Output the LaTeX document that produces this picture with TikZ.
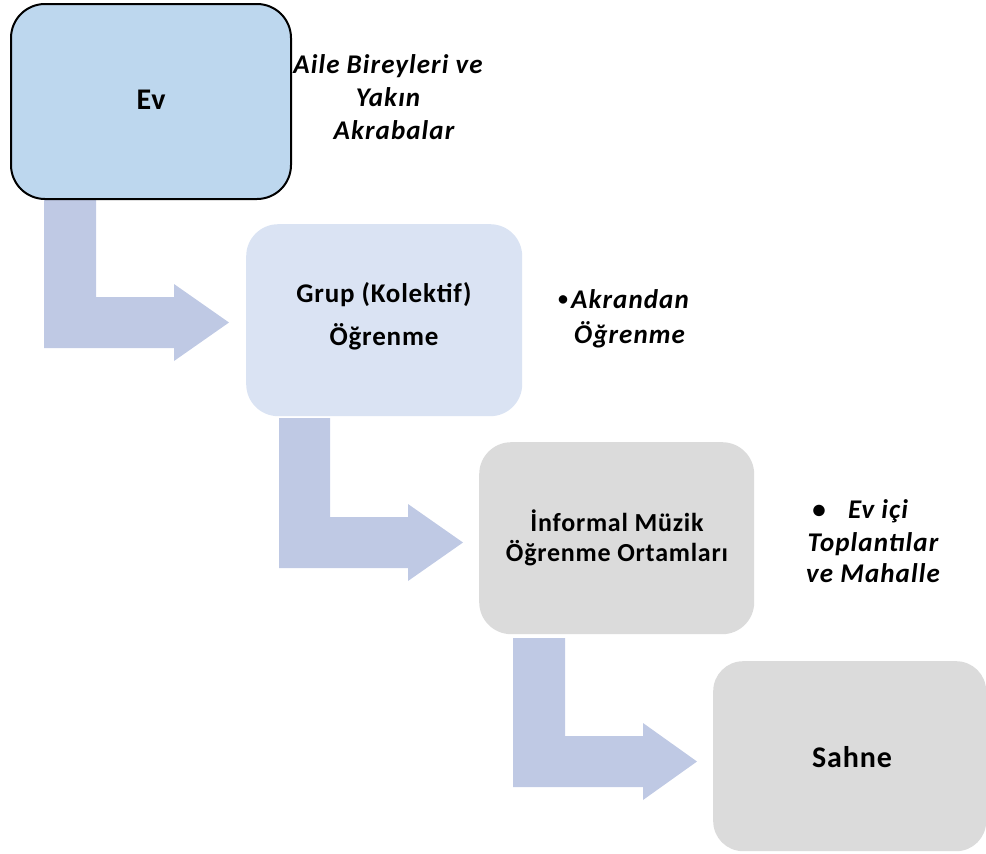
\documentclass[tikz,border=0pt]{standalone}
\usepackage{fontspec}
\setmainfont{Carlito}
\definecolor{evblue}{RGB}{189,215,238}
\definecolor{grpblue}{RGB}{218,227,243}
\definecolor{boxgray}{RGB}{219,219,219}
\definecolor{arrowfill}{RGB}{191,201,228}
\begin{document}
\begin{tikzpicture}[x=1pt,y=-1pt,
  boxshape/.style={rectangle,rounded corners=32pt,inner sep=0pt,anchor=north west},
  bentarrow/.style={fill=arrowfill,draw=none},
  boxtext/.style={anchor=base,inner sep=0pt},
  bigtext/.style={boxtext,font=\fontsize{30}{36}\selectfont\bfseries\addfontfeature{LetterSpace=3}},
  midtext/.style={boxtext,font=\fontsize{26}{31}\selectfont\bfseries\addfontfeature{LetterSpace=3}},
  sidetext/.style={font=\fontsize{27}{32}\selectfont\bfseries\itshape\addfontfeature{LetterSpace=4},anchor=base,inner sep=0pt}]
\useasboundingbox (0,0) rectangle (986,854);
% bent arrows
\fill[bentarrow] (44,196) -- (96,196) -- (96,297) -- (174,297) -- (174,284) -- (229,322.5) -- (174,361) -- (174,348) -- (44,348) -- cycle;
\fill[bentarrow] (279,418) -- (330,418) -- (330,517) -- (408,517) -- (408,504) -- (463,542.5) -- (408,581) -- (408,568) -- (279,568) -- cycle;
\fill[bentarrow] (513,638) -- (565,638) -- (565,736) -- (643,736) -- (643,723) -- (697,761.5) -- (643,800) -- (643,787) -- (513,787) -- cycle;
% boxes
\node[boxshape,fill=evblue,draw=black,line width=2pt,minimum width=280pt,minimum height=195pt,rounded corners=34pt] (ev) at (10,3) {};
\node[boxshape,fill=grpblue,minimum width=276pt,minimum height=192pt] (grup) at (246,224) {};
\node[boxshape,fill=boxgray,minimum width=275pt,minimum height=192pt] (inf) at (479,442) {};
\node[boxshape,fill=boxgray,minimum width=273pt,minimum height=190pt,rounded corners=30pt] (sahne) at (713,661) {};
% box texts
\node[bigtext] (evt) at (151,109) {Ev};
\node[midtext,font=\fontsize{27}{32}\selectfont\bfseries\addfontfeature{LetterSpace=3}] (grupt1) at (384,302) {Grup (Kolektif)};
\node[midtext,font=\fontsize{27}{32}\selectfont\bfseries\addfontfeature{LetterSpace=3}] (grupt2) at (384,345) {Öğrenme};
\node[midtext] (inft1) at (617,531) {İnformal Müzik};
\node[midtext] (inft2) at (617,561) {Öğrenme Ortamları};
\node[bigtext] (sahnet) at (852,767) {Sahne};
% side labels
\node[sidetext] (aile1) at (388,73) {Aile Bireyleri ve};
\node[sidetext] (aile2) at (388,106) {Yakın};
\node[sidetext] (aile3) at (394,139) {Akrabalar};
\node[sidetext,anchor=base west] (akrb) at (558,305) {\upshape\fontsize{20}{24}\selectfont•};
\node[sidetext,anchor=base west] (akr1) at (571,308) {Akrandan};
\node[sidetext,anchor=base west] (akr2) at (574,343) {Öğrenme};
\node[sidetext,anchor=base] (evici0) at (819,518) {\upshape•};
\node[sidetext] (evici1) at (878,518) {Ev içi};
\node[sidetext] (evici2) at (873,551) {Toplantılar};
\node[sidetext] (evici3) at (873,582) {ve Mahalle};
\end{tikzpicture}
\end{document}
